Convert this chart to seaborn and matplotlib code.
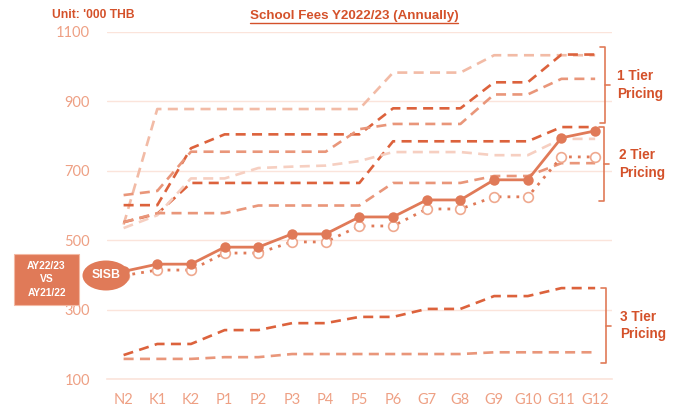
import numpy as np
import pandas as pd
import matplotlib
matplotlib.use('Agg')
import matplotlib.pyplot as plt
import seaborn as sns
from matplotlib.patches import Rectangle, Ellipse
from matplotlib.lines import Line2D

grades = ['N2', 'K1', 'K2', 'P1', 'P2', 'P3', 'P4', 'P5', 'P6', 'G7', 'G8', 'G9', 'G10', 'G11', 'G12']

# fees in '000 THB
sisb_2223 = [410, 431, 431, 480, 480, 518, 518, 567, 567, 616, 616, 674, 674, 795, 815]
sisb_2122 = [398, 414, 414, 463, 463, 495, 495, 541, 541, 590, 590, 625, 625, 740, 740]

tier1_a = [545, 878, 878, 878, 878, 878, 878, 878, 983, 983, 983, 1033, 1033, 1033, 1033]
tier1_b = [601, 601, 765, 805, 805, 805, 805, 805, 880, 880, 880, 955, 955, 1035, 1035]
tier1_c = [630, 642, 755, 755, 755, 755, 755, 820, 835, 835, 835, 920, 920, 965, 965]

tier2_a = [552, 576, 665, 665, 665, 665, 665, 665, 785, 785, 785, 785, 785, 826, 826]
tier2_b = [535, 572, 678, 678, 708, 712, 715, 728, 754, 754, 754, 745, 745, 792, 792]
tier2_c = [552, 578, 578, 578, 600, 600, 600, 600, 665, 665, 665, 685, 685, 722, 722]

tier3_a = [169, 201, 201, 241, 241, 261, 261, 279, 279, 302, 302, 339, 339, 362, 362]
tier3_b = [158, 158, 158, 163, 163, 172, 172, 172, 172, 172, 172, 177, 177, 177, 177]

dark = '#DC623C'
mid = '#E9967A'
light = '#F2BBA6'
lighter = '#F6CFC1'
sisb_col = '#E07A58'
text_col = '#D4512A'
tick_col = '#EEA084'
grid_col = '#FBE4DB'

sns.set_style('white')
plt.rcParams['font.family'] = ['Liberation Sans', 'DejaVu Sans']

fig = plt.figure(figsize=(6.8, 4.09), dpi=100)
ax = fig.add_axes([0.157, 0.0733, 0.743, 0.8485])

dash = (0, (3.8, 2.4))
dashed = [
    (tier1_a, light), (tier1_b, dark), (tier1_c, mid),
    (tier2_a, dark), (tier2_b, lighter), (tier2_c, mid),
    (tier3_a, dark), (tier3_b, mid),
]
for vals, col in dashed:
    sns.lineplot(x=grades, y=vals, ax=ax, color=col, linestyle=dash, lw=1.9, sort=False)

sns.lineplot(x=grades, y=sisb_2122, ax=ax, color=sisb_col, linestyle=(0, (1, 2.2)), lw=2.0,
             sort=False, marker='o', markersize=7, markerfacecolor='white',
             markeredgecolor='#EFA98F', markeredgewidth=1.2)
sns.lineplot(x=grades, y=sisb_2223, ax=ax, color=sisb_col, lw=2.0, sort=False,
             marker='o', markersize=7.5, markeredgewidth=0)

ax.set_xlim(-0.47, 14.47)
ax.set_ylim(100, 1100)
ax.set_yticks([100, 300, 500, 700, 900, 1100])
ax.set_xticks(range(len(grades)))
ax.set_xticklabels(grades)
ax.set_xticks(np.arange(-0.5, 15, 1), minor=True)
ax.yaxis.grid(True, color=grid_col, lw=1)
ax.xaxis.grid(False)
for s in ['left', 'right', 'top']:
    ax.spines[s].set_visible(False)
ax.spines['bottom'].set_color(grid_col)
ax.spines['bottom'].set_linewidth(1.2)
ax.tick_params(axis='x', which='major', length=0, pad=10, labelsize=10.5, labelcolor=tick_col)
ax.tick_params(axis='x', which='minor', length=5, color=grid_col, width=1.2, direction='out')
ax.tick_params(axis='y', length=0, pad=12, labelsize=10.5, labelcolor=tick_col)
for lab in ax.get_xticklabels() + ax.get_yticklabels():
    lab.set_family(['Lato', 'DejaVu Sans'])
ax.set_xlabel('')
ax.set_ylabel('')
if ax.get_legend():
    ax.get_legend().remove()

# header texts
fig.text(52 / 680, 1 - 15 / 409, "Unit: '000 THB", color=text_col, fontsize=8.7, fontweight='bold',
         va='center', ha='left')
title = fig.text(354 / 680, 1 - 16 / 409, 'School Fees Y2022/23 (Annually)', color=text_col,
                 fontsize=9.6, fontweight='bold', va='center', ha='center')
fig.canvas.draw()
bb = title.get_window_extent().transformed(fig.transFigure.inverted())
fig.add_artist(Line2D([bb.x0, bb.x1], [bb.y0 - 0.002, bb.y0 - 0.002], transform=fig.transFigure,
                      color=text_col, lw=1.0))

# legend box and SISB ellipse
fig.add_artist(Rectangle((14 / 680, 1 - 305 / 409), 65 / 680, 51 / 409, transform=fig.transFigure,
                         facecolor=sisb_col, edgecolor='#F3B9A3', lw=0.8))
fig.text(46.5 / 680, 1 - 279.5 / 409, 'AY22/23\nVS\nAY21/22', color='white', fontsize=7.4,
         fontweight='bold', ha='center', va='center', linespacing=1.45)
fig.add_artist(Ellipse((106 / 680, 1 - 275.5 / 409), 47 / 680, 30 / 409, transform=fig.transFigure,
                       facecolor=sisb_col, edgecolor='none'))
fig.text(106 / 680, 1 - 275.5 / 409, 'SISB', color='white', fontsize=8.8, fontweight='bold',
         ha='center', va='center')


def bracket(x, y0, y1, label, tx):
    tf = fig.transFigure
    X = x / 680
    Y0 = 1 - y0 / 409
    Y1 = 1 - y1 / 409
    d = 5 / 680
    fig.add_artist(Line2D([X - d, X, X, X - d], [Y0, Y0, Y1, Y1], transform=tf, color=sisb_col, lw=1.2))
    ym = (Y0 + Y1) / 2
    fig.add_artist(Line2D([X, X + d], [ym, ym], transform=tf, color=sisb_col, lw=1.2))
    fig.text(tx / 680, ym, label, color=text_col, fontsize=9.8, fontweight='bold',
             ha='left', va='center', linespacing=1.3)


bracket(605, 47, 123, '1 Tier\nPricing', 617)
bracket(604, 127, 201, '2 Tier\nPricing', 619)
bracket(606, 288, 363, '3 Tier\nPricing', 620)

fig.savefig('out.png', dpi=100)
